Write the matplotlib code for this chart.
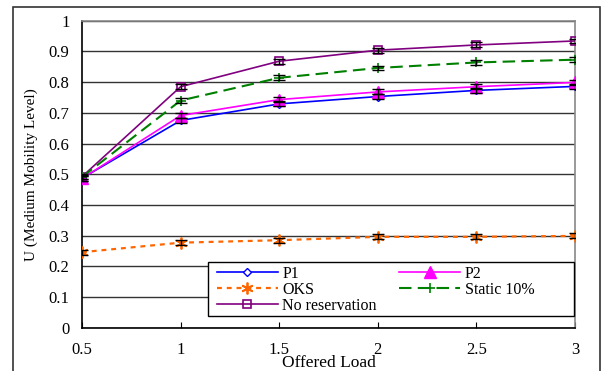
import matplotlib
matplotlib.use("Agg")
import matplotlib.pyplot as plt
from matplotlib.patches import Rectangle

plt.rcParams['font.family'] = ['Liberation Serif', 'DejaVu Serif']

offered_load = [0.5, 1.0, 1.5, 2.0, 2.5, 3.0]
p1 = [0.487, 0.675, 0.729, 0.753, 0.773, 0.786]
p2 = [0.486, 0.691, 0.743, 0.768, 0.785, 0.799]
oks = [0.246, 0.277, 0.285, 0.296, 0.296, 0.299]
static10 = [0.491, 0.740, 0.814, 0.846, 0.864, 0.873]
no_reservation = [0.492, 0.785, 0.868, 0.904, 0.921, 0.934]
err = [0.008, 0.008, 0.008, 0.008, 0.008, 0.008]

y_ticks = [0, 0.1, 0.2, 0.3, 0.4, 0.5, 0.6, 0.7, 0.8, 0.9, 1]
y_tick_labels = ['0', '0.1', '0.2', '0.3', '0.4', '0.5', '0.6', '0.7', '0.8', '0.9', '1']
x_ticks = [0.5, 1, 1.5, 2, 2.5, 3]
x_tick_labels = ['0.5', '1', '1.5', '2', '2.5', '3']

W, H = 602, 371
fig = plt.figure(figsize=(W / 100, H / 100), dpi=100)
ax = fig.add_axes([82 / W, 1 - 327.7 / H, 493 / W, 307 / H])


def ax_x(px):
    return (px - 82) / 493


def ax_y(py):
    return (327.7 - py) / 307


# outer chart frame
fig.patches.append(Rectangle((13 / W, -0.05), 587 / W, 1.05 - 7 / H,
                             transform=fig.transFigure, fill=False,
                             edgecolor='#333333', linewidth=1.2))

series = [
    (p1, 'P1', dict(color='#0000FF', marker='D', markersize=4.5,
                    markerfacecolor='white', markeredgecolor='#0000FF',
                    linestyle='-', linewidth=1.2)),
    (oks, 'OKS', dict(color='#FF6600', marker=(6, 2, 0), markersize=8.5,
                      markeredgewidth=1.3, linestyle=(0, (2.2, 2.2)),
                      linewidth=1.6)),
    (no_reservation, 'No reservation', dict(color='#800080', marker='s',
                                            markersize=6, markerfacecolor='none',
                                            markeredgewidth=1.2, linestyle='-',
                                            linewidth=1.2)),
    (p2, 'P2', dict(color='#FF00FF', marker='^', markersize=8,
                    linestyle='-', linewidth=1.2)),
    (static10, 'Static 10%', dict(color='#008000', marker='+', markersize=7,
                                  markeredgewidth=1.2, linestyle=(0, (6, 3)),
                                  linewidth=1.5)),
]

handles = []
for vals, label, style in series:
    h, = ax.plot(offered_load, vals, label=label, zorder=3, **style)
    ax.errorbar(offered_load, vals, yerr=err, fmt='none', ecolor='black',
                elinewidth=1.0, capsize=4, capthick=1.0, zorder=4)
    handles.append(h)

ax.set_xlim(0.5, 3)
ax.set_ylim(0, 1)
ax.set_xticks(x_ticks)
ax.set_xticklabels(x_tick_labels)
ax.set_yticks(y_ticks)
ax.set_yticklabels(y_tick_labels)
ax.tick_params(axis='y', length=0, pad=9, labelsize=12)
ax.tick_params(axis='x', direction='in', length=4, pad=10, labelsize=12,
               color='black')

ax.yaxis.grid(True, color='#333333', linewidth=1.0)
ax.set_axisbelow(True)
for side in ('top', 'right'):
    ax.spines[side].set_color('#888888')
    ax.spines[side].set_linewidth(1.2)
for side in ('left', 'bottom'):
    ax.spines[side].set_color('black')
    ax.spines[side].set_linewidth(1.2)

ax.set_xlabel('Offered Load', fontsize=12.5, labelpad=-2)
ax.set_ylabel('U (Medium Mobility Level)', fontsize=11)
ax.yaxis.set_label_coords(ax_x(38), 0.5)

# legend box drawn as its own patch so its size is fixed
ax.add_patch(Rectangle((ax_x(208), ax_y(316)), ax_x(574) - ax_x(208),
                       ax_y(262) - ax_y(316), transform=ax.transAxes,
                       facecolor='white', edgecolor='black', linewidth=1.0,
                       zorder=6, clip_on=False))
leg = ax.legend(handles=handles, ncol=2, loc='upper left',
                bbox_to_anchor=(ax_x(217), ax_y(266)), borderaxespad=0,
                borderpad=0, frameon=False, fontsize=11.5, handlelength=3.8,
                labelspacing=0.0, handletextpad=0.3, columnspacing=1.4)
leg.set_zorder(7)

fig.savefig('out.png', dpi=100)
